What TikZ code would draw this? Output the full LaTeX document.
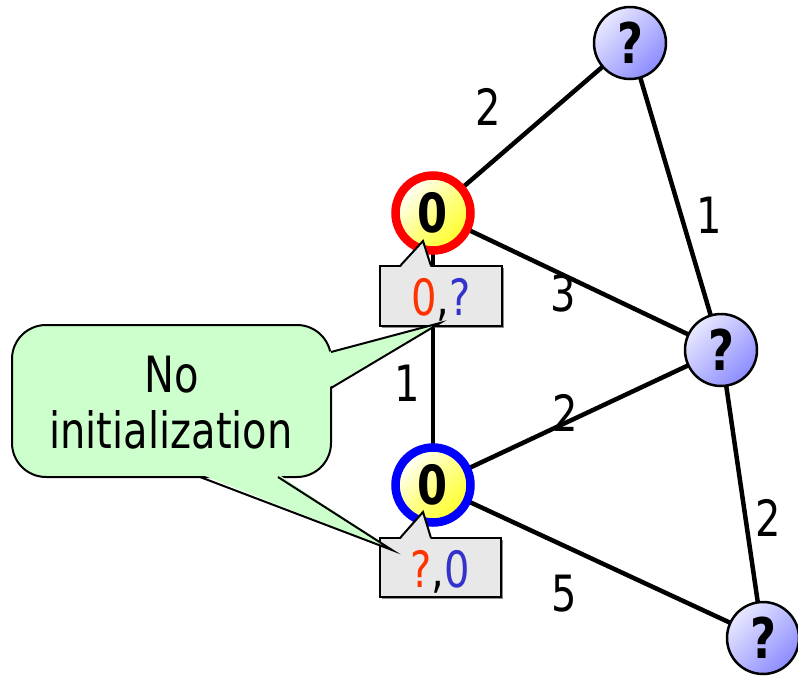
\documentclass[tikz,border=0pt]{standalone}
\usepackage{fontspec}
\setmainfont{DejaVu Sans}[FakeStretch=0.8]
\definecolor{srcfill}{RGB}{255,255,40}
\definecolor{unkfill}{RGB}{140,140,255}
\definecolor{unklight}{RGB}{232,232,255}
\definecolor{tipfill}{RGB}{232,232,232}
\definecolor{notefill}{RGB}{204,255,204}
\definecolor{redval}{RGB}{255,51,0}
\definecolor{blueval}{RGB}{51,51,204}
\begin{document}
\begin{tikzpicture}[x=1pt,y=-1pt,
  edge/.style={line width=4.5pt,black},
  wlabel/.style={inner sep=0pt,font=\fontsize{50}{56}\selectfont},
  srcnode/.style={circle,minimum size=75pt,inner sep=0pt,line width=8.5pt,
    top color=white,bottom color=srcfill,middle color=srcfill!55!white,shading angle=45,
    font=\bfseries\fontsize{54}{60}\selectfont},
  unknode/.style={circle,minimum size=72pt,inner sep=0pt,draw=black,line width=2.5pt,
    top color=unklight,bottom color=unkfill,shading angle=45,
    font=\bfseries\fontsize{56}{60}\selectfont},
  tipbox/.style={fill=tipfill,draw=black,line width=2pt},
  tiptext/.style={inner sep=0pt,anchor=base,font=\fontsize{50}{56}\selectfont},
  note/.style={fill=notefill,draw=black,line width=2pt},
  notetext/.style={inner sep=0pt,anchor=base,font=\fontsize{50}{56}\selectfont}]
\useasboundingbox (0,0) rectangle (798,675);

% vertex positions
\coordinate (pA) at (630,43);
\coordinate (pS1) at (433,213);
\coordinate (pB) at (721,350);
\coordinate (pS2) at (433,485);
\coordinate (pC) at (763,638);

% weighted edges
\draw[edge] (pS1) -- (pA);
\draw[edge] (pA) -- (pB);
\draw[edge] (pS1) -- (pB);
\draw[edge] (pS1) -- (pS2);
\draw[edge] (pS2) -- (pB);
\draw[edge] (pB) -- (pC);
\draw[edge] (pS2) -- (pC);

\node[wlabel] (w1) at (488,107) {2};
\node[wlabel] (w2) at (709,215) {1};
\node[wlabel] (w3) at (563,293) {3};
\node[wlabel] (w4) at (407,383) {1};
\node[wlabel] (w5) at (565,413) {2};
\node[wlabel] (w6) at (768,518) {2};
\node[wlabel] (w7) at (564,594) {5};

% vertices
\node[srcnode,draw=red] (S1) at (pS1) {0};
\node[srcnode,draw=blue] (S2) at (pS2) {0};
\node[unknode] (A) at (pA) {?};
\node[unknode] (B) at (pB) {?};
\node[unknode] (C) at (pC) {?};

% distance labels under the two sources
\coordinate (t1) at (423,241);
\fill[black!45] (382,268) rectangle (504,328);
\draw[tipbox] (380,266) rectangle (502,326);
\fill[tipfill] (400,268) -- (t1) -- (431,268) -- cycle;
\draw[line width=2pt,line join=miter] (400,266) -- (t1) -- (431,266);
\node[tiptext] (d1) at (441,315) {\textcolor{redval}{0},\textcolor{blueval}{?}};

\coordinate (t2) at (423,512);
\fill[black!45] (382,540) rectangle (503,599);
\draw[tipbox] (380,538) rectangle (501,597);
\fill[tipfill] (400,540) -- (t2) -- (431,540) -- cycle;
\draw[line width=2pt,line join=miter] (400,538) -- (t2) -- (431,538);
\node[tiptext] (d2) at (440,587) {\textcolor{redval}{?},\textcolor{blueval}{0}};

% speech bubble
\coordinate (n1) at (440,323);
\coordinate (n2) at (392,550);
\draw[note,rounded corners=34pt] (12,325) rectangle (331,477);
\fill[notefill] (328,352) -- (n1) -- (328,388) -- cycle;
\draw[line width=2pt,line join=miter] (331,352) -- (n1) -- (331,388);
\fill[notefill] (200,474) -- (n2) -- (278,474) -- cycle;
\draw[line width=2pt,line join=miter] (200,477) -- (n2) -- (278,477);
\node[notetext] (m1) at (172,392) {No};
\node[notetext] (m2) at (171,448) {initialization};
\end{tikzpicture}
\end{document}
